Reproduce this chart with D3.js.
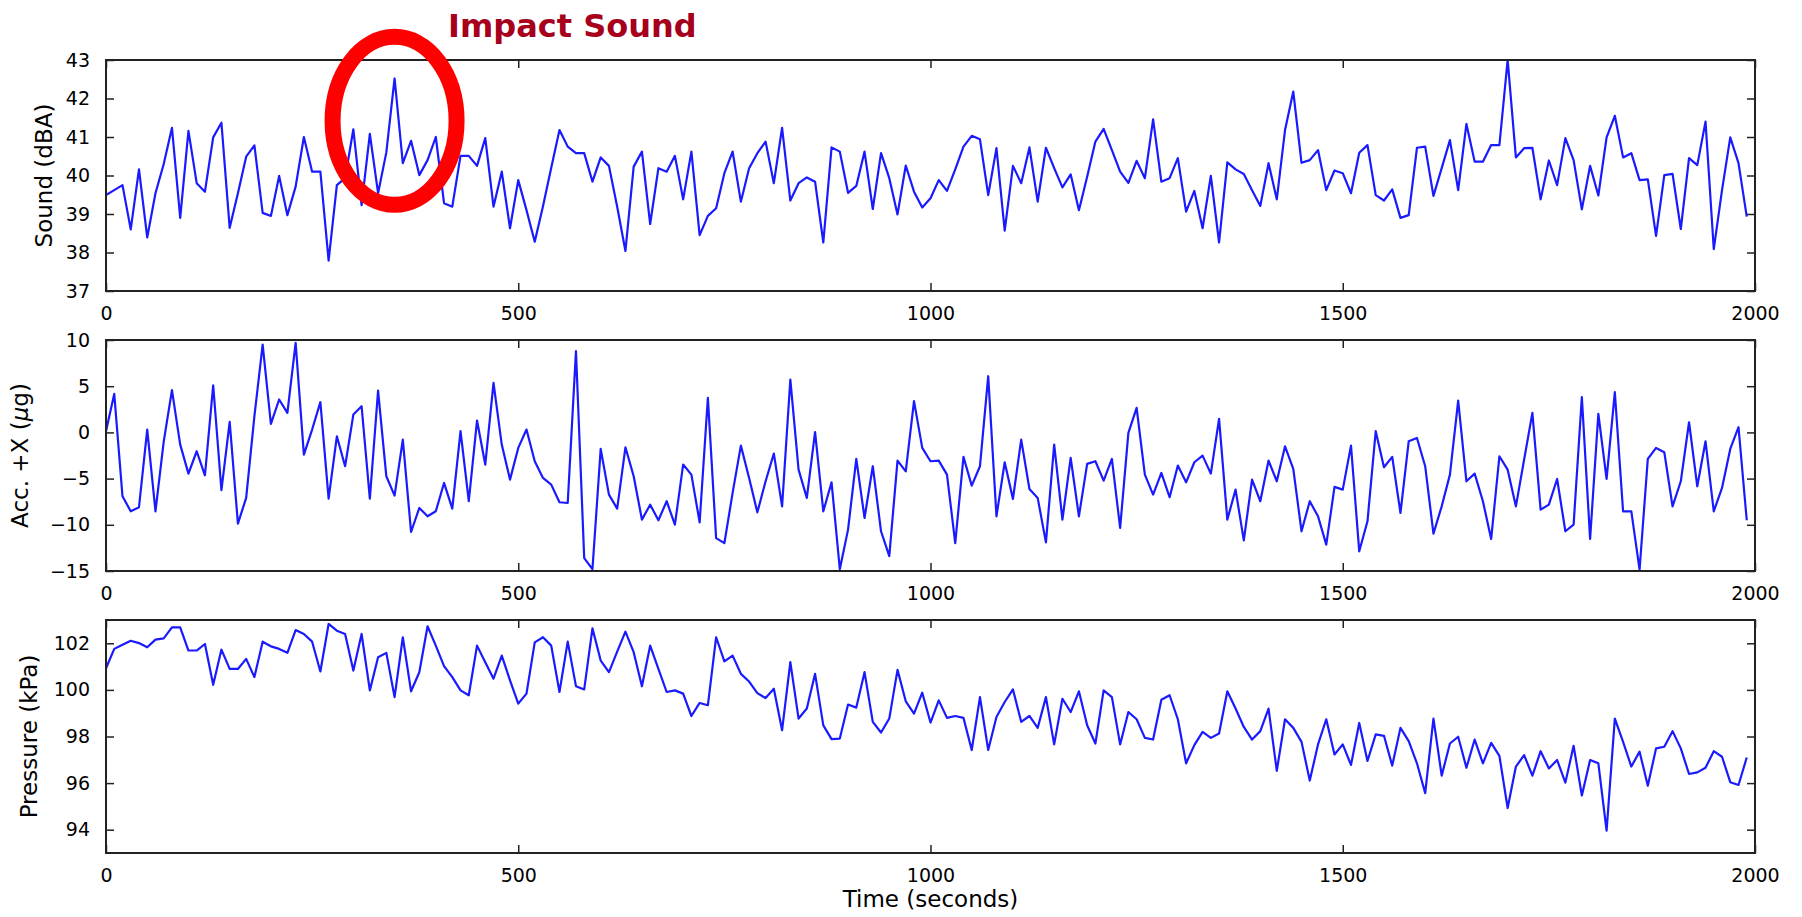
<!DOCTYPE html>
<html>
<head>
<meta charset="utf-8">
<script src="https://cdn.jsdelivr.net/npm/d3@7"></script>
<style>
  html, body { margin: 0; padding: 0; background: #fff; }
  svg { display: block; }
  text { font-family: "DejaVu Sans", sans-serif; fill: #000; }
</style>
</head>
<body>
<svg id="chart" width="1802" height="917"></svg>
<script>
// ---------------- data ----------------
const sampleStep = 10; // seconds between samples
const sound = [
  39.49, 39.62, 39.75, 38.6, 40.16, 38.39, 39.54, 40.3, 41.24, 38.9,
  41.16, 39.8, 39.58, 40.99, 41.37, 38.64, 39.54, 40.49, 40.78, 39.03,
  38.95, 39.99, 38.97, 39.71, 41.0, 40.1, 40.1, 37.79, 39.75, 39.93,
  41.2, 39.23, 41.08, 39.54, 40.6, 42.52, 40.32, 40.9, 40.01, 40.4,
  41.0, 39.28, 39.19, 40.51, 40.51, 40.25, 40.97, 39.19, 40.1, 38.63,
  39.88, 39.1, 38.28, 39.2, 40.2, 41.18, 40.75, 40.58, 40.58, 39.84,
  40.47, 40.25, 39.19, 38.04, 40.23, 40.62, 38.74, 40.19, 40.1, 40.51,
  39.38, 40.62, 38.45, 38.95, 39.15, 40.06, 40.62, 39.32, 40.19, 40.58,
  40.88, 39.8, 41.24, 39.35, 39.8, 39.95, 39.84, 38.26, 40.73, 40.62,
  39.55, 39.73, 40.62, 39.13, 40.58, 39.93, 38.99, 40.26, 39.58, 39.17,
  39.41, 39.88, 39.6, 40.16, 40.75, 41.03, 40.94, 39.49, 40.71, 38.57,
  40.25, 39.8, 40.73, 39.32, 40.72, 40.19, 39.69, 40.03, 39.1, 39.97,
  40.88, 41.21, 40.66, 40.1, 39.81, 40.38, 39.93, 41.46, 39.84, 39.93,
  40.45, 39.06, 39.6, 38.63, 39.99, 38.26, 40.34, 40.16, 40.04, 39.62,
  39.21, 40.32, 39.38, 41.18, 42.18, 40.33, 40.4, 40.66, 39.62, 40.13,
  40.06, 39.54, 40.59, 40.79, 39.49, 39.35, 39.64, 38.9, 38.97, 40.72,
  40.75, 39.47, 40.19, 40.92, 39.62, 41.34, 40.36, 40.36, 40.79, 40.79,
  43.0, 40.47, 40.71, 40.72, 39.38, 40.39, 39.75, 40.97, 40.4, 39.12,
  40.25, 39.48, 40.99, 41.55, 40.47, 40.58, 39.88, 39.9, 38.43, 40.01,
  40.04, 38.61, 40.45, 40.27, 41.4, 38.09, 39.62, 40.99, 40.32, 38.93
];
const acc = [
  0.13, 4.17, -6.91, -8.54, -8.1, 0.31, -8.54, -1.0, 4.57, -1.32,
  -4.46, -2.04, -4.64, 5.1, -6.26, 1.14, -9.87, -7.09, 1.75, 9.51,
  0.92, 3.56, 2.11, 9.69, -2.4, 0.31, 3.27, -7.17, -0.42, -3.66,
  1.93, 2.83, -7.17, 4.53, -4.75, -6.84, -0.78, -10.78, -8.18, -9.08,
  -8.54, -5.47, -8.25, 0.13, -7.45, 1.28, -3.48, 5.36, -1.32, -5.11,
  -1.68, 0.31, -3.12, -4.93, -5.65, -7.56, -7.64, 8.79, -13.6, -14.8,
  -1.79, -6.73, -8.25, -1.61, -4.75, -9.44, -7.82, -9.51, -7.45, -9.98,
  -3.48, -4.57, -9.73, 3.74, -11.44, -11.98, -6.55, -1.43, -4.93, -8.65,
  -5.29, -2.29, -8.0, 5.72, -4.03, -7.09, 0.02, -8.54, -5.4, -14.8,
  -10.52, -2.87, -9.26, -3.66, -10.7, -13.4, -3.05, -4.21, 3.38, -1.68,
  -3.12, -3.05, -4.57, -11.98, -2.65, -5.76, -3.66, 6.08, -9.08, -3.23,
  -7.2, -0.78, -6.12, -7.09, -11.9, -1.32, -9.44, -2.76, -9.08, -3.41,
  -3.12, -5.22, -2.87, -10.34, -0.05, 2.65, -4.57, -6.73, -4.39, -7.02,
  -3.59, -5.4, -3.23, -2.51, -4.46, 1.46, -9.44, -6.19, -11.68, -5.11,
  -7.45, -3.05, -5.29, -1.5, -3.95, -10.7, -7.45, -9.08, -12.15, -5.9,
  -6.19, -1.43, -12.87, -9.62, 0.13, -3.77, -2.65, -8.72, -0.96, -0.6,
  -3.66, -10.96, -8.0, -4.57, 3.45, -5.29, -4.46, -7.45, -11.53, -2.58,
  -4.03, -8.0, -2.94, 2.11, -8.36, -7.82, -5.04, -10.7, -9.98, 3.81,
  -11.53, 2.0, -5.04, 4.35, -8.54, -8.54, -14.86, -2.87, -1.68, -2.15,
  -8.0, -5.29, 1.1, -5.83, -0.96, -8.54, -6.01, -1.79, 0.56, -9.51
];
const pressure = [
  100.93, 101.76, 101.94, 102.11, 102.01, 101.83, 102.16, 102.21, 102.68, 102.68,
  101.69, 101.69, 101.97, 100.22, 101.73, 100.9, 100.9, 101.33, 100.55, 102.07,
  101.87, 101.76, 101.59, 102.57, 102.4, 102.07, 100.79, 102.83, 102.54, 102.4,
  100.83, 102.4, 99.98, 101.4, 101.59, 99.69, 102.26, 99.94, 100.76, 102.73,
  101.9, 101.02, 100.55, 99.98, 99.77, 101.9, 101.19, 100.48, 101.47, 100.41,
  99.41, 99.84, 102.04, 102.26, 101.9, 99.91, 102.07, 100.16, 100.02, 102.64,
  101.26, 100.76, 101.64, 102.5, 101.62, 100.16, 101.9, 100.9, 99.91, 99.98,
  99.84, 98.88, 99.44, 99.34, 102.26, 101.22, 101.47, 100.69, 100.36, 99.86,
  99.65, 100.05, 98.27, 101.19, 98.77, 99.2, 100.69, 98.48, 97.89, 97.91,
  99.37, 99.24, 100.76, 98.63, 98.17, 98.77, 100.86, 99.51, 98.98, 99.88,
  98.6, 99.55, 98.8, 98.88, 98.8, 97.42, 99.69, 97.42, 98.84, 99.48,
  100.02, 98.63, 98.88, 98.37, 99.69, 97.66, 99.62, 99.05, 99.94, 98.48,
  97.7, 99.98, 99.69, 97.66, 99.05, 98.74, 97.94, 97.87, 99.58, 99.77,
  98.74, 96.85, 97.63, 98.2, 97.94, 98.13, 99.94, 99.2, 98.41, 97.87,
  98.23, 99.2, 96.53, 98.74, 98.37, 97.77, 96.11, 97.66, 98.74, 97.23,
  97.66, 96.78, 98.58, 96.95, 98.09, 98.03, 96.75, 98.37, 97.8, 96.85,
  95.57, 98.77, 96.32, 97.7, 97.99, 96.66, 97.87, 96.85, 97.73, 97.17,
  94.93, 96.71, 97.2, 96.32, 97.37, 96.63, 96.99, 96.02, 97.6, 95.47,
  96.99, 96.85, 93.96, 98.77, 97.77, 96.71, 97.35, 95.89, 97.49, 97.56,
  98.23, 97.49, 96.39, 96.46, 96.66, 97.37, 97.13, 96.04, 95.92, 97.1
];
const xTicks = [0, 500, 1000, 1500, 2000];
const soundTicks = [37, 38, 39, 40, 41, 42, 43];
const accTicks = [-15, -10, -5, 0, 5, 10];
const pressureTicks = [94, 96, 98, 100, 102];
const panelLabels = ["Sound (dBA)", "Acc. +X (μg)", "Pressure (kPa)"];
const xLabel = "Time (seconds)";
const annotation = "Impact Sound";
const annotatedTime = 350;    // seconds, centre of the circled event
const annotatedSound = 41.42; // dBA, vertical centre of the circle

// ---------------- layout ----------------
const svg = d3.select("#chart");
const left = 106, right = 1755;
const panels = [
  { values: sound, domain: [37, 43], ticks: soundTicks, top: 60, bottom: 291, label: panelLabels[0], labelX: 44 },
  { values: acc, domain: [-15, 10], ticks: accTicks, top: 340, bottom: 571, label: panelLabels[1], labelX: 20 },
  { values: pressure, domain: [93, 103], ticks: pressureTicks, top: 620, bottom: 853, label: panelLabels[2], labelX: 29 }
];
const x = d3.scaleLinear().domain([0, 2000]).range([left, right]);
const fmt = d => (d < 0 ? "\u2212" + Math.abs(d) : String(d));
const lineColor = "#1a1aff";
const axisColor = "#222";
const tickLen = 8;
const tickFont = 19;
const labelFont = 23;

panels.forEach((p, i) => {
  const y = d3.scaleLinear().domain(p.domain).range([p.bottom, p.top]);
  const g = svg.append("g");
  const clipId = "clip" + i;
  svg.append("clipPath").attr("id", clipId)
    .append("rect").attr("x", left).attr("y", p.top)
    .attr("width", right - left).attr("height", p.bottom - p.top);

  const data = p.values.map((v, k) => ({ t: k * sampleStep, v }));
  const line = d3.line().x(d => x(d.t)).y(d => y(d.v));
  g.append("path").datum(data)
    .attr("clip-path", `url(#${clipId})`)
    .attr("fill", "none").attr("stroke", lineColor)
    .attr("stroke-width", 2.2).attr("stroke-linejoin", "round")
    .attr("d", line);

  // ticks (inward, all four sides)
  const bottomAxis = d3.axisBottom(x).tickValues(xTicks).tickSizeInner(-tickLen).tickSizeOuter(0).tickPadding(tickLen + 8).tickFormat(d3.format("d"));
  const topAxis = d3.axisTop(x).tickValues(xTicks).tickSizeInner(-tickLen).tickSizeOuter(0).tickFormat("");
  const leftAxis = d3.axisLeft(y).tickValues(p.ticks).tickSizeInner(-tickLen).tickSizeOuter(0).tickPadding(tickLen + 8).tickFormat(fmt);
  const rightAxis = d3.axisRight(y).tickValues(p.ticks).tickSizeInner(-tickLen).tickSizeOuter(0).tickFormat("");

  const styleAxis = sel => {
    sel.select(".domain").remove();
    sel.selectAll(".tick line").attr("stroke", axisColor).attr("stroke-width", 1.5);
    sel.selectAll(".tick text").attr("font-family", "DejaVu Sans, sans-serif").attr("font-size", tickFont).attr("fill", "#000");
  };
  g.append("g").attr("transform", `translate(0,${p.bottom})`).call(bottomAxis).call(styleAxis);
  g.append("g").attr("transform", `translate(0,${p.top})`).call(topAxis).call(styleAxis);
  g.append("g").attr("transform", `translate(${left},0)`).call(leftAxis).call(styleAxis);
  g.append("g").attr("transform", `translate(${right},0)`).call(rightAxis).call(styleAxis);

  g.append("rect").attr("x", left).attr("y", p.top)
    .attr("width", right - left).attr("height", p.bottom - p.top)
    .attr("fill", "none").attr("stroke", axisColor).attr("stroke-width", 2);

  // y label
  const cy = (p.top + p.bottom) / 2;
  const lab = g.append("text")
    .attr("transform", `translate(${p.labelX},${cy}) rotate(-90)`)
    .attr("text-anchor", "middle").attr("dominant-baseline", "central")
    .attr("font-size", labelFont);
  if (p.label.includes("μ")) {
    const parts = p.label.split("μ");
    lab.append("tspan").text(parts[0]);
    lab.append("tspan").attr("font-style", "italic").text("μ");
    lab.append("tspan").text(parts[1]);
  } else {
    lab.text(p.label);
  }

  if (i === 0) {
    // annotation ellipse
    svg.append("ellipse")
      .attr("cx", x(annotatedTime)).attr("cy", y(annotatedSound))
      .attr("rx", 62).attr("ry", 84)
      .attr("fill", "none").attr("stroke", "#ff0000").attr("stroke-width", 16);
  }
});

svg.append("text")
  .attr("x", (left + right) / 2).attr("y", 907)
  .attr("text-anchor", "middle").attr("font-size", labelFont)
  .text(xLabel);

svg.append("text")
  .attr("x", 448).attr("y", 37)
  .attr("font-family", "Liberation Sans, Arial, sans-serif")
  .attr("font-weight", "bold").attr("font-size", 32)
  .style("fill", "#a6001c")
  .text(annotation);
</script>
</body>
</html>
